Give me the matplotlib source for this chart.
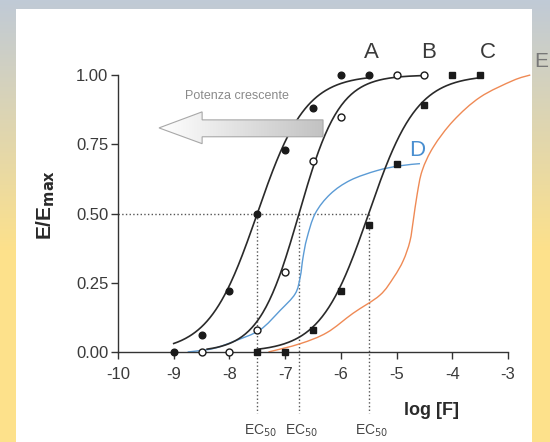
import numpy as np
import matplotlib
matplotlib.use("Agg")
import matplotlib.pyplot as plt
from matplotlib.patches import Rectangle, Polygon, PathPatch
from matplotlib.path import Path

plt.rcParams['font.family'] = ['Liberation Sans', 'DejaVu Sans']

# ---------------- data ----------------
x_ticks = [-10, -9, -8, -7, -6, -5, -4, -3]
y_ticks = [0.00, 0.25, 0.50, 0.75, 1.00]
y_ticklabels = ["0.00", "0.25", "0.50", "0.75", "1.00"]

# agonist A (filled circles)
a_x = [-9, -8.5, -8, -7.5, -7, -6.5, -6, -5.5]
a_y = [0.0, 0.06, 0.22, 0.50, 0.73, 0.88, 1.0, 1.0]
# agonist B (open circles)
b_x = [-8.5, -8, -7.5, -7, -6.5, -6, -5, -4.5]
b_y = [0.0, 0.0, 0.08, 0.29, 0.69, 0.85, 1.0, 1.0]
# agonist C (filled squares)
c_x = [-7.5, -7, -6.5, -6, -5.5, -5, -4.5, -4, -3.5]
c_y = [0.0, 0.0, 0.08, 0.22, 0.46, 0.68, 0.89, 1.0, 1.0]

# fitted curve parameters (EC50, Hill slope, x-range of the drawn fit)
ec50 = {"A": -7.5, "B": -6.75, "C": -5.5}
hill_n = {"A": 1.0, "B": 1.2, "C": 1.0}
fit_range = {"A": (-9.0, -5.5), "B": (-8.4, -4.5), "C": (-7.5, -3.5)}

# curve D (partial agonist, blue)
d_x = [-8.75, -8.3, -7.9, -7.45, -7.09, -6.82, -6.73, -6.68, -6.61, -6.46,
       -6.19, -5.83, -5.35, -4.95, -4.58]
d_y = [0.0, 0.012, 0.04, 0.08, 0.15, 0.21, 0.27, 0.34, 0.41, 0.50,
       0.57, 0.62, 0.655, 0.672, 0.68]
# curve E (orange)
e_x = [-7.3, -6.73, -6.25, -5.78, -5.3, -5.05, -4.88, -4.76, -4.70, -4.63,
       -4.54, -4.34, -3.98, -3.5, -2.91, -2.6]
e_y = [0.0, 0.03, 0.07, 0.14, 0.205, 0.27, 0.33, 0.40, 0.475, 0.57,
       0.655, 0.74, 0.835, 0.92, 0.98, 1.0]

ec50_labels = ["A", "B", "C"]


def hill(x, e, n):
    return 1.0 / (1.0 + 10 ** (n * (e - x)))


def smooth_path(xs, ys):
    """Smooth Bezier path through the given points (Catmull-Rom style)."""
    p = np.column_stack([xs, ys]).astype(float)
    n = len(p)
    verts = [p[0]]
    codes = [Path.MOVETO]
    for i in range(n - 1):
        p0 = p[i - 1] if i > 0 else p[i]
        p1, p2 = p[i], p[i + 1]
        p3 = p[i + 2] if i + 2 < n else p[i + 1]
        c1 = p1 + (p2 - p0) / 6.0
        c2 = p2 - (p3 - p1) / 6.0
        verts += [c1, c2, p2]
        codes += [Path.CURVE4] * 3
    return Path(np.array(verts), codes)


# ---------------- figure ----------------
W, H = 550, 442
fig = plt.figure(figsize=(W / 100, H / 100), dpi=100)

# background gradient
bg = fig.add_axes([0, 0, 1, 1], zorder=-10)
bg.set_axis_off()
top_c = np.array([192, 202, 214]) / 255.0
bot_c = np.array([253, 225, 139]) / 255.0
rows = np.arange(H)
t = np.clip(rows / 250.0, 0, 1)[:, None]
grad = (top_c[None, :] * (1 - t) + bot_c[None, :] * t)
grad = np.repeat(grad[:, None, :], 4, axis=1)
bg.imshow(grad, aspect='auto', extent=[0, 1, 0, 1], origin='upper')
bg.set_xlim(0, 1)
bg.set_ylim(0, 1)
bg.add_patch(Rectangle((16 / W, 0), (532 - 16) / W, (H - 9) / H,
                       transform=bg.transAxes, facecolor='white',
                       edgecolor='none'))

# main axes
x0, x1 = 118, 508
y0, y1 = 352, 75
ax = fig.add_axes([x0 / W, (H - y0) / H, (x1 - x0) / W, (y0 - y1) / H])
ax.patch.set_alpha(0)
ax.set_xlim(-10, -3)
ax.set_ylim(0, 1)
for s in ['top', 'right']:
    ax.spines[s].set_visible(False)
for s in ['left', 'bottom']:
    ax.spines[s].set_color('#333333')
    ax.spines[s].set_linewidth(1.0)
ax.set_xticks(x_ticks)
ax.set_xticklabels([str(v) for v in x_ticks])
ax.set_yticks(y_ticks)
ax.set_yticklabels(y_ticklabels)
ax.tick_params(axis='both', direction='out', length=5, width=1,
               color='#333333', labelcolor='#3a3a3a', labelsize=12, pad=2)
ax.tick_params(axis='x', pad=6)

dot_col = '#555555'
# dotted EC50 guides
ax.plot([-10, ec50["C"]], [0.5, 0.5], linestyle=':', color=dot_col,
        lw=1.0, clip_on=False, zorder=1)
for k in ec50_labels:
    ax.plot([ec50[k], ec50[k]], [0.5, -0.22], linestyle=':', color=dot_col,
            lw=1.0, clip_on=False, zorder=1)
    ax.text(ec50[k] + 0.05, -0.285, r"EC$_{50}$", ha='center', va='center',
            fontsize=10, color='#444444', clip_on=False)

# curves D, E (smooth paths through read points)
ax.add_patch(PathPatch(smooth_path(d_x, d_y), facecolor='none',
                       edgecolor='#5b9bd5', lw=1.0, clip_on=False, zorder=2))
ax.add_patch(PathPatch(smooth_path(e_x, e_y), facecolor='none',
                       edgecolor='#ef8a55', lw=1.0, clip_on=False, zorder=2))

# fitted curves A, B, C
for k in ec50_labels:
    xs = np.linspace(fit_range[k][0], fit_range[k][1], 200)
    ax.plot(xs, hill(xs, ec50[k], hill_n[k]), color='#2a2a2a', lw=1.2,
            zorder=3, clip_on=False)

# markers
ax.plot(a_x, a_y, 'o', color='#1a1a1a', ms=4.8, zorder=4, clip_on=False)
ax.plot(b_x, b_y, 'o', mfc='white', mec='#1a1a1a', mew=1.0, ms=5.0,
        zorder=4, clip_on=False)
ax.plot(c_x, c_y, 's', color='#1a1a1a', ms=4.5, zorder=4, clip_on=False)

# curve labels
lab_col = '#3a3a3a'
ax.text(-5.46, 1.08, "A", fontsize=16, color=lab_col, ha='center',
        va='center', clip_on=False)
ax.text(-4.43, 1.08, "B", fontsize=16, color=lab_col, ha='center',
        va='center', clip_on=False)
ax.text(-3.37, 1.08, "C", fontsize=16, color=lab_col, ha='center',
        va='center', clip_on=False)
ax.text(-2.27, 1.05, "E", fontsize=15, color='#777777', ha='right',
        va='center', clip_on=False)
ax.text(-4.63, 0.727, "D", fontsize=16, color='#4a8fd0', ha='center',
        va='center', clip_on=False)

# axis titles
ax.text(-4.38, -0.21, "log [F]", fontsize=13, fontweight='bold',
        color='#2a2a2a', ha='center', va='center', clip_on=False)
fig.text(46 / W, (H - 205) / H, r"E/E$_{\mathbf{max}}$", rotation=90,
         fontsize=15, fontweight='bold', color='#2a2a2a', ha='center',
         va='center')

# gradient arrow "Potenza crescente"
tip_x, head_x, tail_x = -9.264, -8.49, -6.32
yc, bt, bb, ht, hb = 0.809, 0.838, 0.777, 0.867, 0.752
arrow_pts = [(tip_x, yc), (head_x, ht), (head_x, bt), (tail_x, bt),
             (tail_x, bb), (head_x, bb), (head_x, hb)]
arrow = Polygon(arrow_pts, closed=True, facecolor='none', edgecolor='#a8a8a8',
                lw=0.8, zorder=6)
ax.add_patch(arrow)
g = np.linspace(1.0, 0.76, 256)[None, :]
im = ax.imshow(np.dstack([g, g, g]), extent=[tip_x, tail_x, hb, ht],
               aspect='auto', zorder=5, interpolation='bilinear')
im.set_clip_path(arrow)
ax.set_xlim(-10, -3)
ax.set_ylim(0, 1)
ax.text(-7.86, 0.924, "Potenza crescente", fontsize=9, color='#8a8a8a',
        ha='center', va='center')

fig.savefig("out.png", dpi=100)
